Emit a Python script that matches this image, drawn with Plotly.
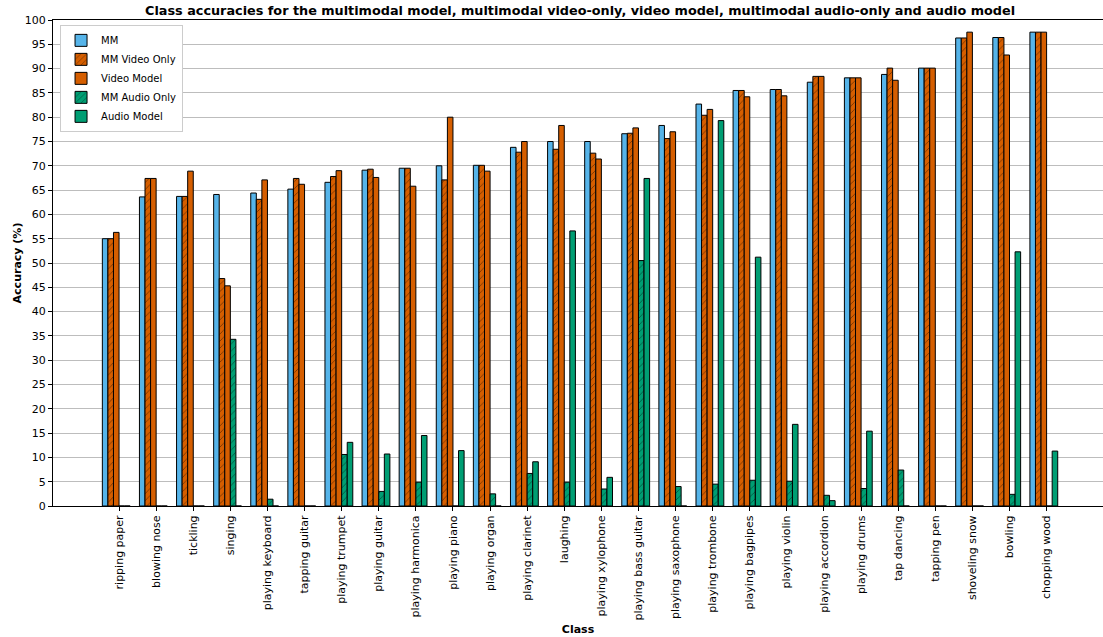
import plotly.graph_objects as go

classes = ["ripping paper", "blowing nose", "tickling", "singing", "playing keyboard",
           "tapping guitar", "playing trumpet", "playing guitar", "playing harmonica",
           "playing piano", "playing organ", "playing clarinet", "laughing",
           "playing xylophone", "playing bass guitar", "playing saxophone",
           "playing trombone", "playing bagpipes", "playing violin", "playing accordion",
           "playing drums", "tap dancing", "tapping pen", "shoveling snow", "bowling",
           "chopping wood"]

mm = [55.0, 63.6, 63.7, 64.1, 64.4, 65.2, 66.6, 69.1, 69.5, 70.0, 70.1, 73.8, 75.0,
      75.0, 76.6, 78.3, 82.7, 85.5, 85.7, 87.2, 88.1, 88.8, 90.1, 96.3, 96.4, 97.5]
mm_video = [55.0, 67.4, 63.7, 46.8, 63.1, 67.4, 67.8, 69.3, 69.5, 67.1, 70.1, 72.8, 73.4,
            72.6, 76.7, 75.6, 80.4, 85.5, 85.7, 88.4, 88.1, 90.1, 90.1, 96.3, 96.4, 97.5]
video_model = [56.3, 67.4, 68.9, 45.3, 67.1, 66.2, 69.0, 67.6, 65.8, 80.0, 68.9, 75.0, 78.3,
               71.4, 77.8, 77.0, 81.6, 84.2, 84.4, 88.4, 88.1, 87.6, 90.1, 97.5, 92.8, 97.5]
mm_audio = [0.0, 0.0, 0.0, 34.3, 1.4, 0.0, 10.6, 3.0, 4.9, 0.0, 2.5, 6.7, 4.9,
            3.5, 50.5, 4.0, 4.5, 5.3, 5.1, 2.2, 3.6, 7.4, 0.0, 0.0, 2.4, 0.0]
audio_model = [0.0, 0.0, 0.0, 0.0, 0.0, 0.0, 13.1, 10.7, 14.5, 11.4, 0.0, 9.1, 56.6,
               5.9, 67.4, 0.0, 79.3, 51.2, 16.8, 1.1, 15.4, 0.0, 0.0, 0.0, 52.3, 11.3]

series = [
    ("MM", mm, "#56B4E9", ""),
    ("MM Video Only", mm_video, "#D55E00", "/"),
    ("Video Model", video_model, "#D55E00", ""),
    ("MM Audio Only", mm_audio, "#009E73", "/"),
    ("Audio Model", audio_model, "#009E73", ""),
]

W = 0.15
fig = go.Figure()
for i, (name, vals, color, hatch) in enumerate(series):
    fig.add_trace(go.Bar(
        x=classes, y=vals, name=name,
        width=W, offset=(i - 3) * W,
        marker=dict(color=color, line=dict(color="black", width=1),
                    pattern=dict(shape=hatch, fgcolor="black", bgcolor=color,
                                 size=5, solidity=0.15)),
    ))

font = "DejaVu Sans"
fig.update_layout(
    width=1103, height=637,
    margin=dict(l=53, r=0, t=20, b=131),
    barmode="overlay",
    plot_bgcolor="white", paper_bgcolor="white",
    font=dict(family=font, size=11, color="black"),
    title=dict(text="<b>Class accuracies for the multimodal model, multimodal video-only, video model, multimodal audio-only and audio model</b>",
               x=0.502, xref="paper", xanchor="center", y=0.99, yanchor="top",
               font=dict(family=font, size=12.8, color="black")),
    legend=dict(x=0.0067, y=0.99, xanchor="left", yanchor="top",
                bgcolor="white", bordercolor="#cccccc", borderwidth=1,
                font=dict(size=10), tracegroupgap=0, itemwidth=30),
    showlegend=True,
)
fig.update_xaxes(
    type="category", range=[-1.78, 26.52],
    showline=True, linecolor="black", linewidth=1, mirror=True,
    ticks="outside", ticklen=4, tickcolor="black",
    tickangle=-90, tickfont=dict(size=11),
    title=dict(text="<b>Class</b>", font=dict(size=11), standoff=5),
    showgrid=False,
)
fig.update_yaxes(
    range=[0, 100], dtick=5, tick0=0,
    showline=True, linecolor="black", linewidth=1,
    ticks="outside", ticklen=4, tickcolor="black",
    tickfont=dict(size=11),
    title=dict(text="<b>Accuracy (%)</b>", font=dict(size=11), standoff=0),
    showgrid=True, gridcolor="#bdbdbd", gridwidth=1,
    zeroline=False,
)
fig.write_html("out.html")
